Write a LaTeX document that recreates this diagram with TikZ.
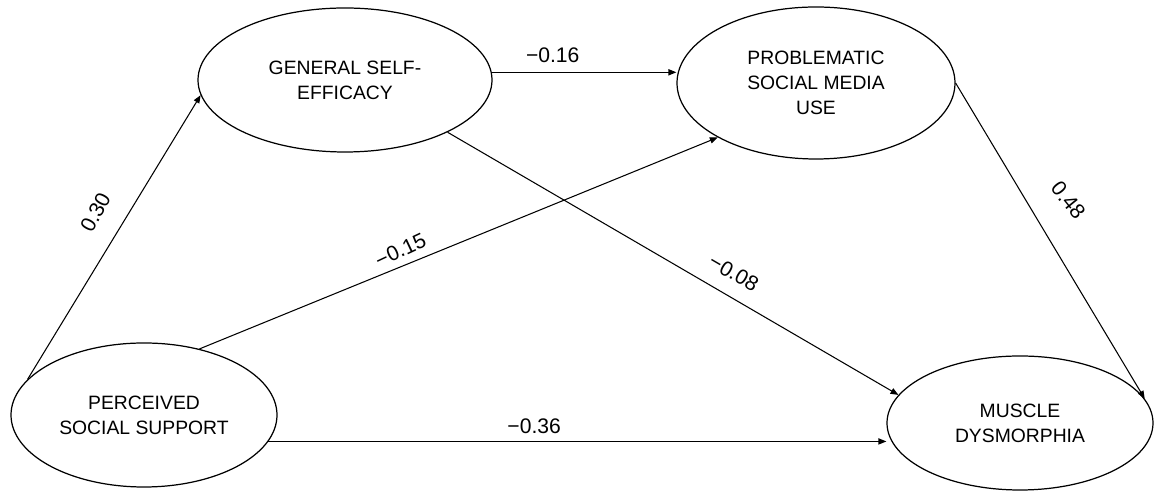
\documentclass[tikz,border=0pt]{standalone}
\usepackage{fontspec}
\setmainfont{Liberation Sans}
\usetikzlibrary{arrows.meta, shapes.geometric}

\begin{document}
\begin{tikzpicture}[latent/.style = {shape=ellipse, draw, line width=0.7pt, inner sep=0pt, align=center, font=\fontsize{11}{14.2}\selectfont}, coef/.style = {inner sep=0pt, font=\fontsize{12}{14}\selectfont}, >={Triangle[length=4.5pt, width=3.5pt]}, line width=0.6pt]

\useasboundingbox (0,0) rectangle (23.08,9.82);

\node[latent, minimum width=5.88cm, minimum height=2.88cm] (selfEfficacy) at (6.90,8.22) {GENERAL SELF-\\EFFICACY};
\node[latent, minimum width=5.56cm, minimum height=3.04cm] (socialMedia) at (16.32,8.16) {PROBLEMATIC\\SOCIAL MEDIA\\USE};
\node[latent, minimum width=5.32cm, minimum height=2.88cm] (socialSupport) at (2.88,1.52) {PERCEIVED\\SOCIAL SUPPORT};
\node[latent, minimum width=5.32cm, minimum height=2.68cm] (dysmorphia) at (20.40,1.36) {MUSCLE\\DYSMORPHIA};

\draw[->] (socialSupport.163.3) -- node[coef, pos=0.536, sloped, above=0.42cm, rotate=3] {0.30} (selfEfficacy.186.6);
\draw[->] (selfEfficacy.3) -- node[coef, pos=0.33, above=0.18cm] {−0.16} (selfEfficacy.3 -| socialMedia.west);
\draw[->] (selfEfficacy.-27.5) -- node[coef, pos=0.61, sloped, above=0.29cm] {−0.08} (dysmorphia.167.8);
\draw[->] (socialSupport.50.5) -- node[coef, pos=0.40, sloped, above=0.15cm, rotate=3] {−0.15} (socialMedia.209.9);
\draw[->] (socialMedia.-0.8) -- node[coef, pos=0.434, sloped, above=0.57cm, rotate=8] {0.48} (dysmorphia.11.1);
\draw[->] (socialSupport.-12.4) -- node[coef, pos=0.43, above=0.15cm] {−0.36} (socialSupport.-12.4 -| dysmorphia.west);
\end{tikzpicture}
\end{document}
